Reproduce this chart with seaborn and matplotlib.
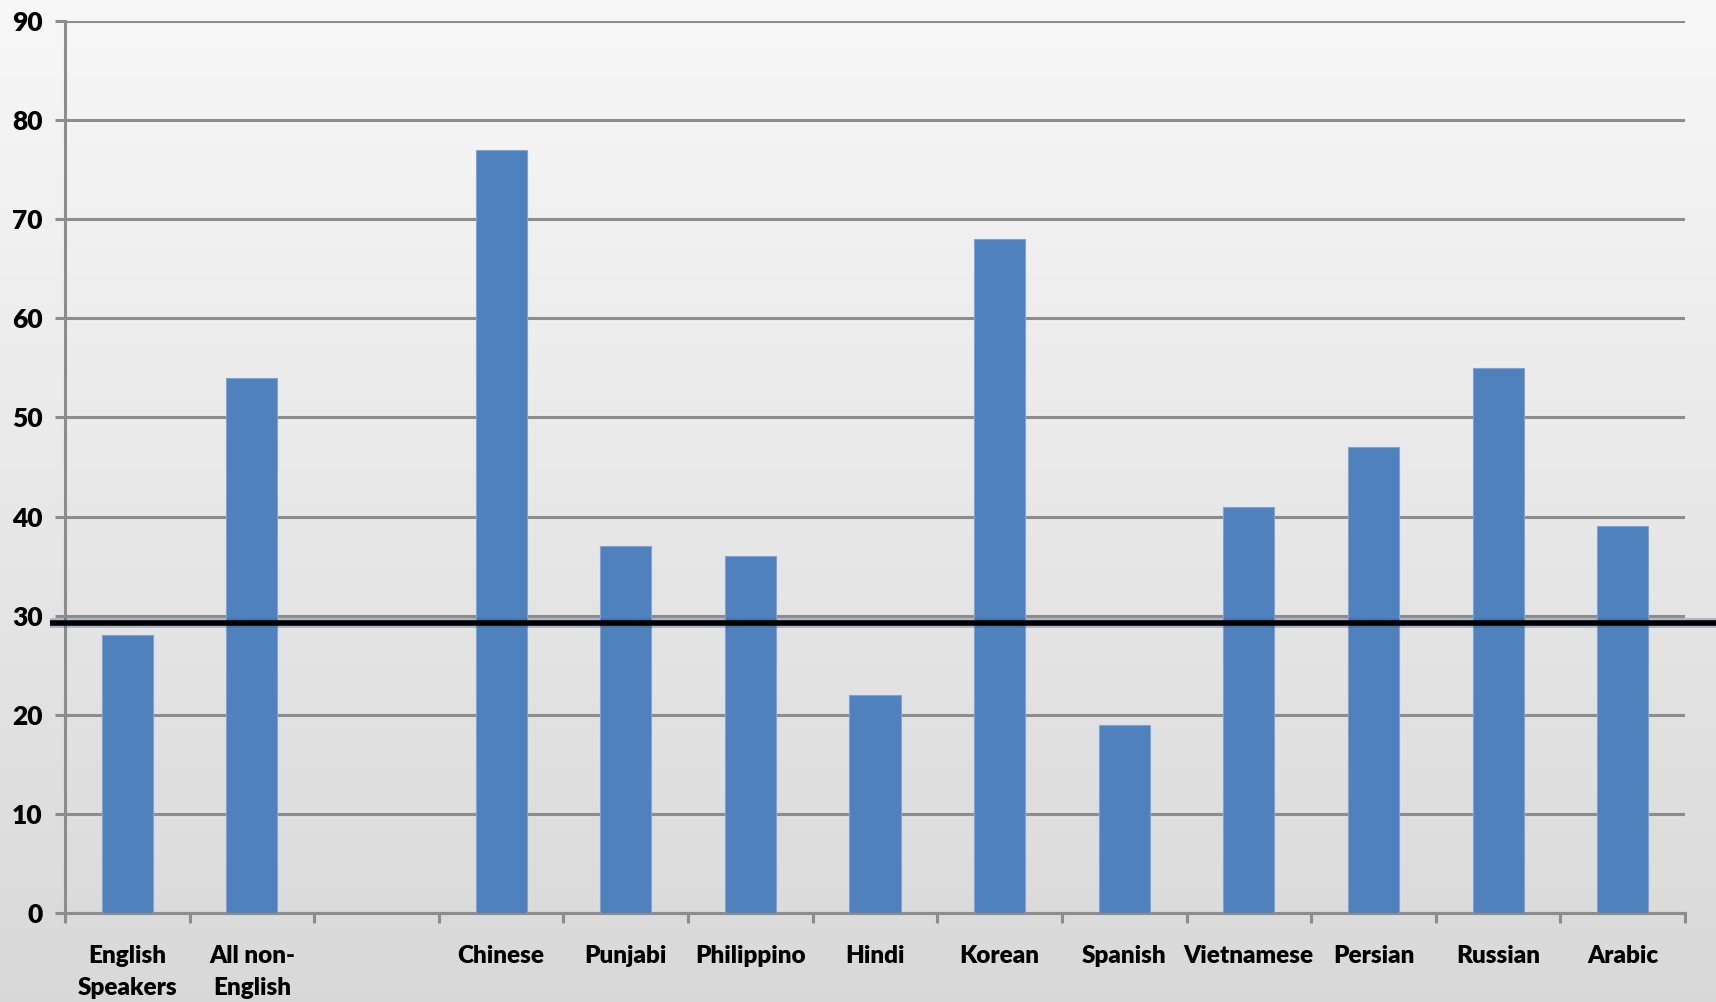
import numpy as np
import pandas as pd
import matplotlib
matplotlib.use("Agg")
import matplotlib.pyplot as plt
import seaborn as sns

# Share of respondents by home language (percent)
categories = ["English\nSpeakers", "All non-\nEnglish", "", "Chinese", "Punjabi",
              "Philippino", "Hindi", "Korean", "Spanish", "Vietnamese",
              "Persian", "Russian", "Arabic"]
plotted = [c for c in categories if c != ""]
values = [28, 54, 77, 37, 36, 22, 68, 19, 41, 47, 55, 39]
reference_level = 29.3
y_ticks = [0, 10, 20, 30, 40, 50, 60, 70, 80, 90]

df = pd.DataFrame({"group": plotted, "percent": values})

sns.set_theme(style="white")
plt.rcParams["font.family"] = ["Lato", "DejaVu Sans"]

W, H, DPI = 1716, 1002, 100
fig = plt.figure(figsize=(W / DPI, H / DPI), dpi=DPI)

# soft vertical gradient behind everything
bg = fig.add_axes([0, 0, 1, 1], zorder=-10)
grad = np.linspace(0.97, 0.85, 256).reshape(-1, 1)
bg.imshow(np.dstack([grad, grad, grad]), aspect="auto", extent=[0, 1, 0, 1])
bg.axis("off")

ax = fig.add_axes([65 / W, 1 - 913 / H, (1685 - 65) / W, (913 - 21) / H])
ax.patch.set_alpha(0)

grid_c = "#8c8c8c"
sns.barplot(data=df, x="group", y="percent", order=categories, color="#4f81bd",
            width=0.41, saturation=1, edgecolor="#7fa3d2", linewidth=0.8,
            ax=ax, zorder=3)

ax.set_xlim(-0.5, len(categories) - 0.5)
ax.set_ylim(0, 90)
ax.set_yticks(y_ticks)
ax.yaxis.grid(True, color=grid_c, linewidth=2.2)
ax.set_axisbelow(True)
ax.set_xlabel("")
ax.set_ylabel("")

for side in ["top", "right"]:
    ax.spines[side].set_visible(False)
for side in ["left", "bottom"]:
    ax.spines[side].set_color(grid_c)
    ax.spines[side].set_linewidth(2.2)

ax.set_xticks(range(len(categories)))
ax.set_xticklabels(categories, fontsize=17.5, fontweight="heavy",
                   linespacing=1.55, va="top")
ax.set_xticks(np.arange(-0.5, len(categories)), minor=True)
ax.tick_params(axis="x", which="major", bottom=True, length=0, pad=23,
               labelcolor="black")
ax.tick_params(axis="x", which="minor", bottom=True, length=7, width=2.2,
               color=grid_c, direction="out")
ax.tick_params(axis="y", left=True, length=7, width=2.2, color=grid_c,
               direction="out", pad=9, labelsize=19, labelcolor="black")
for lab in ax.get_yticklabels():
    lab.set_fontweight("heavy")

# reference threshold line, running past the plot area to the right edge
ax.plot([-0.62, 13.5], [reference_level, reference_level], color="#3d5f8f",
        linewidth=7, alpha=0.35, clip_on=False, zorder=4, solid_capstyle="butt")
ax.plot([-0.62, 13.5], [reference_level, reference_level], color="black",
        linewidth=4, clip_on=False, zorder=5, solid_capstyle="butt")

fig.savefig("out.png", dpi=DPI)
